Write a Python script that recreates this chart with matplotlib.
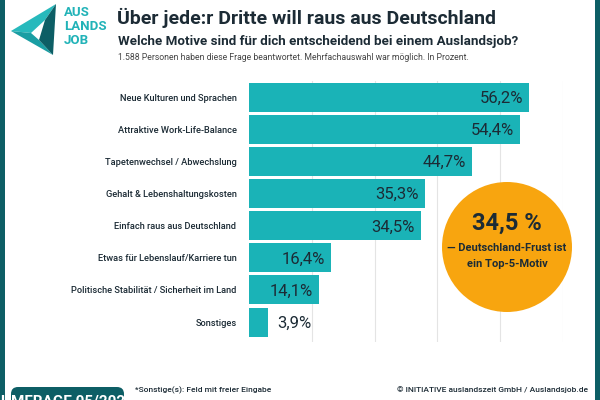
import numpy as np
import matplotlib
matplotlib.use("Agg")
import matplotlib.pyplot as plt
from matplotlib.patches import Polygon, Circle, FancyBboxPatch, Rectangle

CATEGORIES = [
    "Neue Kulturen und Sprachen",
    "Attraktive Work-Life-Balance",
    "Tapetenwechsel / Abwechslung",
    "Gehalt & Lebenshaltungskosten",
    "Einfach raus aus Deutschland",
    "Etwas für Lebenslauf/Karriere tun",
    "Politische Stabilität / Sicherheit im Land",
    "Sonstiges",
]
VALUES = [56.2, 54.4, 44.7, 35.3, 34.5, 16.4, 14.1, 3.9]
VALUE_LABELS = ["56,2%", "54,4%", "44,7%", "35,3%", "34,5%", "16,4%", "14,1%", "3,9%"]

TITLE = "Über jede:r Dritte will raus aus Deutschland"
SUBTITLE = "Welche Motive sind für dich entscheidend bei einem Auslandsjob?"
NOTE = "1.588 Personen haben diese Frage beantwortet. Mehrfachauswahl war möglich. In Prozent."
FOOT_LEFT = "*Sonstige(s): Feld mit freier Eingabe"
FOOT_RIGHT = "© INITIATIVE auslandszeit GmbH / Auslandsjob.de"
BADGE = "UMFRAGE 05/2026"
CALLOUT_BIG = "34,5 %"
CALLOUT_TXT = "— Deutschland-Frust ist\nein Top-5-Motiv"

TEAL = "#1ab3b7"
DARK = "#0d5e65"
ORANGE = "#f8a50f"
INK = "#1c2b35"

plt.rcParams["font.family"] = ["Roboto", "DejaVu Sans"]

W, H = 600, 400
fig = plt.figure(figsize=(6, 4), dpi=100)
fig.patch.set_facecolor("white")

# background layer in pixel coordinates (y down)
bg = fig.add_axes([0, 0, 1, 1])
bg.set_xlim(0, W); bg.set_ylim(H, 0); bg.axis("off")

# side borders
bg.add_patch(Rectangle((0, 0), 5, H, color=DARK, lw=0))
bg.add_patch(Rectangle((595, 0), 5, H, color=DARK, lw=0))

# logo
bg.add_patch(Polygon([(56, 4), (11, 31), (31, 33), (45, 20)], color="#27b9bc", lw=0))
bg.add_patch(Polygon([(11, 31), (31, 33), (39, 40), (53, 55)], color="#1a9ea3", lw=0))
bg.add_patch(Polygon([(56, 4), (45, 20), (39, 40), (53, 55)], color=DARK, lw=0))
for i, t in enumerate(["AUS", "LANDS", "JOB"]):
    bg.text(64, 12 + i * 14, t, color="#22b3b8", fontsize=9.5, fontweight="bold",
            va="center", ha="left")

# titles
bg.text(117, 18, TITLE, fontsize=14, fontweight="bold", color=INK, va="center")
bg.text(118, 41, SUBTITLE, fontsize=9.6, fontweight="bold", color=INK, va="center")
bg.text(118, 58, NOTE, fontsize=6.2, color="#444444", va="center")

# bar chart
ax = fig.add_axes([249 / W, 58 / H, 314 / W, 261 / H])
ax.patch.set_alpha(0)
y = np.arange(len(CATEGORIES))
ax.barh(y, VALUES, height=0.9, color=TEAL, zorder=2)
ax.set_xlim(0, 63)
ax.set_ylim(7.62, -0.5)
ax.set_xticks(np.linspace(0, 63, 6)[1:])
ax.grid(axis="x", color="#e4e4e4", lw=0.8, zorder=0)
ax.tick_params(length=0, labelbottom=False)
ax.set_yticks(y)
ax.set_yticklabels(CATEGORIES, fontsize=6.7, color=INK, fontweight="medium")
ax.tick_params(axis="y", pad=9)
for s in ax.spines.values():
    s.set_visible(False)
for yi, v, lab in zip(y, VALUES, VALUE_LABELS):
    if v > 10:
        ax.text(v - 1.2, yi + 0.04, lab, ha="right", va="center", fontsize=12,
                color=INK, zorder=3)
    else:
        ax.text(v + 1.8, yi + 0.04, lab, ha="left", va="center", fontsize=12,
                color=INK, zorder=3)

# callout circle on top layer
top = fig.add_axes([0, 0, 1, 1])
top.set_xlim(0, W); top.set_ylim(H, 0); top.axis("off")
top.add_patch(Circle((507, 247), 65, color=ORANGE, lw=0))
top.text(507, 223, CALLOUT_BIG, ha="center", va="center", fontsize=17,
         fontweight="bold", color=INK)
top.text(507, 256, CALLOUT_TXT, ha="center", va="center", fontsize=8,
         fontweight="bold", color=INK, linespacing=1.7)

# footer
top.add_patch(FancyBboxPatch((11, 387), 113, 25, boxstyle="round,pad=0,rounding_size=7",
                             color=DARK, lw=0))
top.text(67, 402, BADGE, ha="center", va="center", fontsize=11, fontweight="bold",
         color="white")
top.text(135, 390, FOOT_LEFT, fontsize=6.0, color=INK, va="center", fontweight="medium")
top.text(588, 390, FOOT_RIGHT, fontsize=6.0, color=INK, va="center", ha="right",
         fontweight="medium")

fig.savefig("out.png", dpi=100)
